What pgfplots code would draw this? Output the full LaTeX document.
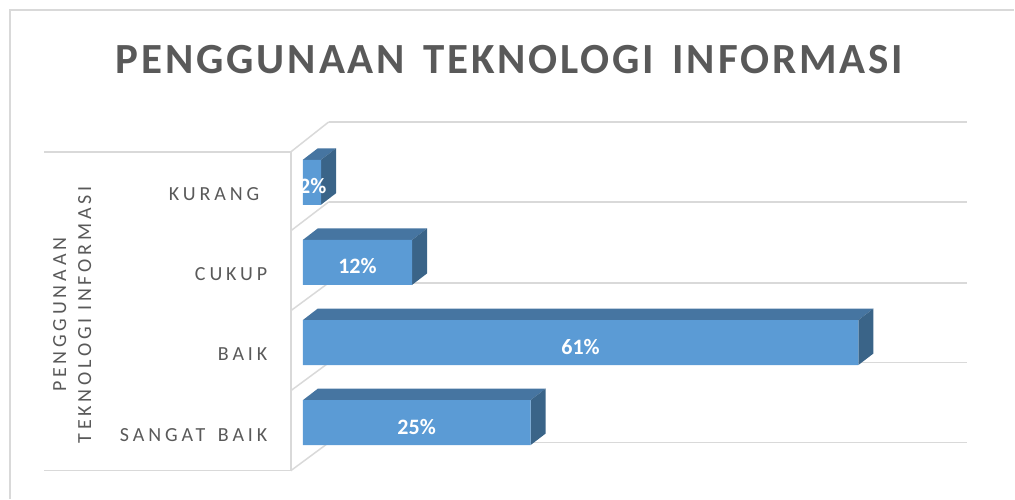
\documentclass[border=0pt]{standalone}
\usepackage{fontspec}
\usepackage{pgfplots}
\pgfplotsset{compat=1.18}
\setmainfont{Carlito}
\newfontfamily\titlefont[LetterSpace=6.6,WordSpace=1.45]{Carlito}
\newfontfamily\labelfont[LetterSpace=19.5,WordSpace=1.5]{Carlito}
\newfontfamily\axislabelfont[LetterSpace=19,WordSpace=0.9]{Carlito}
\definecolor{gridgray}{HTML}{D9D9D9}
\definecolor{barfront}{HTML}{5B9BD5}
\definecolor{bartop}{HTML}{4675A1}
\definecolor{barside}{HTML}{3A6488}
\definecolor{textgray}{HTML}{595959}

\begin{document}
\begin{tikzpicture}
\begin{axis}[
	scale only axis,
	width=665pt,
	height=319pt,
	xmin=0, xmax=72.96,
	ymin=-0.599, ymax=3.379,
	clip=false,
	axis line style={draw=none},
	major tick length=0pt,
	xtick=\empty,
	ytick={0,1,2,3},
	yticklabels={SANGAT BAIK,BAIK,CUKUP,{KURANG\kern8pt}},
	yticklabel style={font=\fontsize{20}{24}\selectfont\labelfont, text=textgray, anchor=east, xshift=-32pt, yshift=-12pt},
	ylabel={PENGGUNAAN\\TEKNOLOGI INFORMASI},
	ylabel style={font=\fontsize{20}{25}\selectfont\axislabelfont, text=textgray, align=center, at={(axis description cs:-0.347,0.489)}, anchor=center},
	title={PENGGUNAAN TEKNOLOGI INFORMASI},
	title style={font=\fontsize{43}{50}\selectfont\titlefont\bfseries, text=textgray, at={(axis description cs:0.311,1.272)}, anchor=center},
]
% outer frame, cut off at the right and at the bottom
\addplot[gridgray, line width=1.5pt, forget plot] coordinates {(-32.14,-0.948) (-32.14,5.15) (78.11,5.15)};

% back wall lines
\addplot[gridgray, line width=1.5pt, forget plot] coordinates {(2.85,3.753) (72.96,3.753)};
\addplot[gridgray, line width=1.5pt, forget plot] coordinates {(2.85,2.756) (72.96,2.756)};
\addplot[gridgray, line width=1.5pt, forget plot] coordinates {(2.85,1.746) (72.96,1.746)};
\addplot[gridgray, line width=1.5pt, forget plot] coordinates {(2.85,0.748) (72.96,0.748)};
\addplot[gridgray, line width=1.5pt, forget plot] coordinates {(2.85,-0.249) (72.96,-0.249)};

% floor diagonals
\addplot[gridgray, line width=1.5pt, forget plot] coordinates {(-1.316,3.379) (2.85,3.753)};
\addplot[gridgray, line width=1.5pt, forget plot] coordinates {(-1.316,2.394) (2.85,2.756)};
\addplot[gridgray, line width=1.5pt, forget plot] coordinates {(-1.316,1.397) (2.85,1.746)};
\addplot[gridgray, line width=1.5pt, forget plot] coordinates {(-1.316,0.399) (2.85,0.748)};
\addplot[gridgray, line width=1.5pt, forget plot] coordinates {(-1.316,-0.599) (2.85,-0.249)};

% left wall
\addplot[gridgray, line width=1.5pt, forget plot] coordinates {(-28.4,3.379) (-1.316,3.379) (-1.316,-0.599) (-28.4,-0.599)};

% top faces
\addplot[fill=bartop, draw=none, forget plot] coordinates {(0,0.28) (1.646,0.424) (26.646,0.424) (25,0.28)} -- cycle;
\addplot[fill=bartop, draw=none, forget plot] coordinates {(0,1.28) (1.646,1.424) (62.646,1.424) (61,1.28)} -- cycle;
\addplot[fill=bartop, draw=none, forget plot] coordinates {(0,2.28) (1.646,2.424) (13.646,2.424) (12,2.28)} -- cycle;
\addplot[fill=bartop, draw=none, forget plot] coordinates {(0,3.28) (1.646,3.424) (3.646,3.424) (2,3.28)} -- cycle;

% side faces
\addplot[fill=barside, draw=none, forget plot] coordinates {(25,0.28) (26.646,0.424) (26.646,-0.137) (25,-0.28)} -- cycle;
\addplot[fill=barside, draw=none, forget plot] coordinates {(61,1.28) (62.646,1.424) (62.646,0.863) (61,0.72)} -- cycle;
\addplot[fill=barside, draw=none, forget plot] coordinates {(12,2.28) (13.646,2.424) (13.646,1.863) (12,1.72)} -- cycle;
\addplot[fill=barside, draw=none, forget plot] coordinates {(2,3.28) (3.646,3.424) (3.646,2.863) (2,2.72)} -- cycle;

% front faces
\addplot[xbar, bar width=45pt, bar shift=0pt, fill=barfront, draw=none] coordinates {(25,0) (61,1) (12,2) (2,3)};

\node[text=white, font=\fontsize{22}{26}\selectfont\bfseries] at (axis cs:12.5,-0.05) {25\%};
\node[text=white, font=\fontsize{22}{26}\selectfont\bfseries] at (axis cs:30.5,0.95) {61\%};
\node[text=white, font=\fontsize{22}{26}\selectfont\bfseries] at (axis cs:6,1.96) {12\%};
\node[text=white, font=\fontsize{22}{26}\selectfont\bfseries] at (axis cs:1.1,2.95) {2\%};
\end{axis}
\useasboundingbox (-303pt,-28pt) rectangle (712pt,471pt);
\end{tikzpicture}
\end{document}
